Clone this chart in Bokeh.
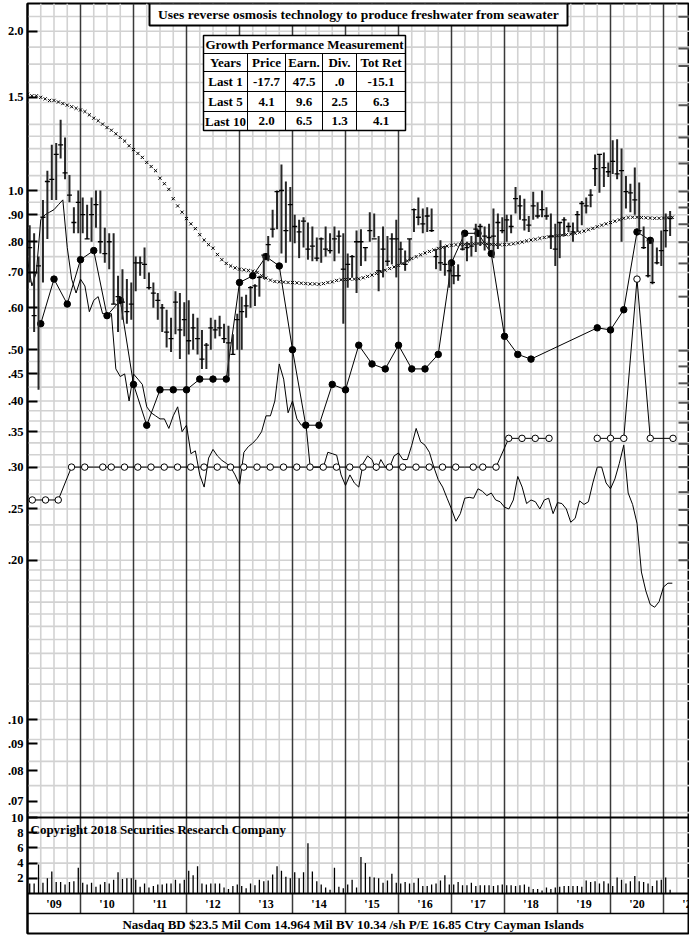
import numpy as np
from bokeh.plotting import figure
from bokeh.models import Range1d, FixedTicker, CustomJSTickFormatter, LinearScale
from bokeh.core.properties import value
from bokeh.embed import file_html
from bokeh.resources import INLINE

FONT = "Liberation Serif"

# ---------------- data ----------------
year_labels = ["'09", "'10", "'11", "'12", "'13", "'14", "'15", "'16", "'17", "'18", "'19", "'20", "'21"]
first_year = 2009

bar_high = [0.86, 0.83, 0.75, 0.96, 1.09, 1.22, 1.23, 1.36, 1.26, 1.07, 0.93, 1.00,
            0.97, 0.94, 0.97, 1.00, 1.00, 0.85, 0.83, 0.83, 0.69, 0.71, 0.68, 0.67,
            0.75, 0.75, 0.78, 0.70, 0.67, 0.64, 0.61, 0.595, 0.575, 0.645, 0.64, 0.615,
            0.62, 0.585, 0.575, 0.545, 0.515, 0.575, 0.57, 0.58, 0.56, 0.555, 0.535, 0.585,
            0.63, 0.635, 0.66, 0.665, 0.69, 0.76, 0.82, 0.92, 1.00, 1.12, 1.04, 1.015,
            0.90, 0.88, 0.89, 0.87, 0.855, 0.815, 0.815, 0.855, 0.83, 0.855, 0.84, 0.83,
            0.76, 0.755, 0.84, 0.845, 0.78, 0.91, 0.905, 0.82, 0.855, 0.82, 0.83, 0.88,
            0.80, 0.77, 0.81, 0.925, 0.97, 0.925, 0.93, 0.925, 0.775, 0.805, 0.785, 0.735,
            0.72, 0.725, 0.83, 0.80, 0.82, 0.865, 0.865, 0.855, 0.865, 0.925, 0.905, 0.89,
            0.90, 0.90, 1.015, 0.98, 0.965, 0.895, 0.995, 0.95, 1.00, 0.93, 0.905, 0.865,
            0.87, 0.89, 0.87, 0.87, 0.915, 0.955, 0.97, 1.005, 1.17, 1.17, 1.18, 1.13,
            1.245, 1.25, 1.20, 1.065, 1.03, 1.105, 1.035, 0.855, 0.805, 0.81, 0.78, 0.84,
            0.905, 0.915]
bar_low = [0.67, 0.54, 0.42, 0.67, 0.81, 0.96, 0.96, 1.15, 1.05, 0.95, 0.83, 0.83,
           0.83, 0.81, 0.80, 0.85, 0.76, 0.73, 0.71, 0.61, 0.54, 0.57, 0.56, 0.57,
           0.645, 0.69, 0.68, 0.65, 0.60, 0.57, 0.54, 0.505, 0.495, 0.535, 0.48, 0.53,
           0.49, 0.50, 0.49, 0.46, 0.46, 0.50, 0.525, 0.53, 0.515, 0.445, 0.49, 0.50,
           0.50, 0.575, 0.60, 0.605, 0.63, 0.68, 0.735, 0.815, 0.845, 0.76, 0.73, 0.80,
           0.795, 0.745, 0.78, 0.74, 0.735, 0.735, 0.73, 0.75, 0.76, 0.735, 0.76, 0.56,
           0.655, 0.685, 0.64, 0.72, 0.735, 0.80, 0.815, 0.645, 0.685, 0.72, 0.725, 0.685,
           0.725, 0.705, 0.735, 0.835, 0.86, 0.83, 0.835, 0.835, 0.71, 0.705, 0.69, 0.655,
           0.665, 0.675, 0.77, 0.735, 0.75, 0.765, 0.785, 0.77, 0.77, 0.745, 0.775, 0.83,
           0.80, 0.83, 0.905, 0.88, 0.84, 0.835, 0.88, 0.885, 0.89, 0.88, 0.775, 0.72,
           0.745, 0.82, 0.835, 0.80, 0.835, 0.86, 0.905, 0.93, 1.02, 0.99, 1.015, 1.06,
           1.075, 1.05, 0.80, 0.925, 0.91, 0.90, 0.83, 0.775, 0.685, 0.665, 0.725, 0.72,
           0.78, 0.82]
bar_close = [0.78, 0.58, 0.72, 0.89, 1.04, 1.05, 1.17, 1.22, 1.08, 0.98, 0.87, 0.95,
             0.90, 0.81, 0.90, 0.94, 0.80, 0.76, 0.80, 0.61, 0.63, 0.615, 0.59, 0.61,
             0.73, 0.73, 0.725, 0.655, 0.64, 0.62, 0.60, 0.54, 0.525, 0.615, 0.545, 0.57,
             0.52, 0.55, 0.525, 0.48, 0.51, 0.55, 0.545, 0.55, 0.525, 0.515, 0.49, 0.57,
             0.59, 0.605, 0.655, 0.66, 0.685, 0.755, 0.79, 0.845, 0.995, 1.00, 0.84, 0.94,
             0.855, 0.835, 0.875, 0.775, 0.785, 0.745, 0.81, 0.775, 0.77, 0.81, 0.82, 0.71,
             0.725, 0.75, 0.80, 0.80, 0.78, 0.84, 0.81, 0.705, 0.775, 0.735, 0.81, 0.81,
             0.775, 0.725, 0.81, 0.92, 0.89, 0.865, 0.895, 0.84, 0.75, 0.73, 0.725, 0.705,
             0.69, 0.69, 0.775, 0.78, 0.785, 0.845, 0.855, 0.82, 0.815, 0.82, 0.87, 0.84,
             0.88, 0.855, 0.965, 0.935, 0.88, 0.86, 0.935, 0.895, 0.92, 0.895, 0.82, 0.775,
             0.87, 0.88, 0.855, 0.835, 0.90, 0.945, 0.935, 0.98, 1.10, 1.17, 1.105, 1.085,
             1.135, 1.075, 1.09, 0.995, 0.99, 0.96, 0.84, 0.78, 0.69, 0.67, 0.73, 0.77,
             0.84, 0.885]

ma_line = [1.52, 1.51, 1.51, 1.50, 1.49, 1.48, 1.48, 1.47, 1.46, 1.45, 1.44, 1.43,
           1.42, 1.41, 1.39, 1.37, 1.355, 1.335, 1.315, 1.30, 1.28, 1.26, 1.24, 1.215,
           1.195, 1.175, 1.155, 1.13, 1.11, 1.09, 1.055, 1.03, 1.005, 0.965, 0.935, 0.91,
           0.885, 0.865, 0.847, 0.825, 0.806, 0.79, 0.778, 0.757, 0.74, 0.728, 0.72, 0.714,
           0.71, 0.708, 0.706, 0.704, 0.70, 0.69, 0.683, 0.677, 0.673, 0.672, 0.671, 0.67,
           0.67, 0.669, 0.668, 0.667, 0.666, 0.666, 0.665, 0.667, 0.67, 0.672, 0.676, 0.678,
           0.679, 0.68, 0.68, 0.681, 0.684, 0.688, 0.692, 0.697, 0.702, 0.707, 0.712, 0.717,
           0.722, 0.728, 0.736, 0.744, 0.75, 0.756, 0.762, 0.767, 0.772, 0.777, 0.781, 0.785,
           0.788, 0.79, 0.79, 0.791, 0.792, 0.793, 0.794, 0.795, 0.793, 0.791, 0.79, 0.79,
           0.79, 0.791, 0.793, 0.796, 0.799, 0.803, 0.806, 0.809, 0.812, 0.815, 0.817, 0.819,
           0.821, 0.823, 0.825, 0.827, 0.83, 0.834, 0.838, 0.843, 0.848, 0.854, 0.86, 0.865,
           0.87, 0.875, 0.88, 0.886, 0.889, 0.89, 0.89, 0.889, 0.888, 0.887, 0.886, 0.886,
           0.887, 0.889, 0.89]

rs_line = [0.74, 0.66, 0.70, 0.88, 0.90, 0.91, 0.92, 0.94, 0.96, 0.78, 0.68, 0.64,
           0.68, 0.66, 0.59, 0.62, 0.63, 0.585, 0.585, 0.585, 0.46, 0.445, 0.45, 0.40,
           0.45, 0.44, 0.43, 0.39, 0.38, 0.375, 0.37, 0.37, 0.355, 0.375, 0.39, 0.35,
           0.36, 0.318, 0.322, 0.29, 0.275, 0.312, 0.324, 0.315, 0.309, 0.305, 0.30, 0.29,
           0.278, 0.32, 0.328, 0.333, 0.34, 0.35, 0.375, 0.375, 0.40, 0.47, 0.44, 0.38,
           0.40, 0.37, 0.36, 0.365, 0.30, 0.30, 0.30, 0.30, 0.32, 0.318, 0.316, 0.29,
           0.277, 0.29, 0.28, 0.275, 0.305, 0.315, 0.31, 0.295, 0.31, 0.30, 0.30, 0.315,
           0.319, 0.31, 0.31, 0.33, 0.355, 0.335, 0.33, 0.32, 0.30, 0.284, 0.275, 0.262,
           0.25, 0.237, 0.245, 0.262, 0.263, 0.262, 0.273, 0.27, 0.265, 0.268, 0.26, 0.258,
           0.252, 0.25, 0.26, 0.288, 0.275, 0.256, 0.26, 0.258, 0.25, 0.26, 0.262, 0.245,
           0.257, 0.256, 0.25, 0.236, 0.24, 0.259, 0.255, 0.258, 0.28, 0.30, 0.30, 0.28,
           0.273, 0.285, 0.305, 0.33, 0.268, 0.255, 0.235, 0.19, 0.175, 0.165, 0.163, 0.167,
           0.178, 0.181, 0.181]

earn_dates = [2009.25, 2009.5, 2009.75, 2010.0, 2010.25, 2010.5, 2010.75, 2011.0, 2011.25,
              2011.5, 2011.75, 2012.0, 2012.25, 2012.5, 2012.75, 2013.0, 2013.25, 2013.5,
              2013.75, 2014.0, 2014.25, 2014.5, 2014.75, 2015.0, 2015.25, 2015.5, 2015.75,
              2016.0, 2016.25, 2016.5, 2016.75, 2017.0, 2017.25, 2017.5, 2017.75, 2018.0,
              2018.25, 2018.5, 2019.75, 2020.0, 2020.25, 2020.5, 2020.75]
earn_vals = [0.56, 0.68, 0.61, 0.74, 0.77, 0.58, 0.62, 0.43, 0.36, 0.42, 0.42, 0.42, 0.44,
             0.44, 0.44, 0.67, 0.69, 0.75, 0.72, 0.50, 0.36, 0.36, 0.43, 0.42, 0.51, 0.47,
             0.46, 0.51, 0.46, 0.46, 0.49, 0.73, 0.83, 0.83, 0.76, 0.53, 0.49, 0.48, 0.55,
             0.545, 0.595, 0.835, 0.805]

div_dates = [2009.09, 2009.34, 2009.58, 2009.83, 2010.08, 2010.42, 2010.58, 2010.83,
             2011.08, 2011.33, 2011.58, 2011.83, 2012.08, 2012.33, 2012.58, 2012.83,
             2013.08, 2013.33, 2013.58, 2013.83, 2014.08, 2014.33, 2014.58, 2014.83,
             2015.08, 2015.33, 2015.58, 2015.83, 2016.08, 2016.33, 2016.58, 2016.83,
             2017.08, 2017.41, 2017.59, 2017.84, 2018.08, 2018.33, 2018.58, 2018.84,
             2019.30, 2019.75, 2020.0, 2020.25, 2020.5, 2020.75, 2021.18]
div_vals = [0.26, 0.26, 0.26, 0.30, 0.30, 0.30, 0.30, 0.30,
            0.30, 0.30, 0.30, 0.30, 0.30, 0.30, 0.30, 0.30,
            0.30, 0.30, 0.30, 0.30, 0.30, 0.30, 0.30, 0.30,
            0.30, 0.30, 0.30, 0.30, 0.30, 0.30, 0.30, 0.30,
            0.30, 0.30, 0.30, 0.30, 0.34, 0.34, 0.34, 0.34,
            float("nan"), 0.34, 0.34, 0.34, 0.68, 0.34, 0.34]

volume = [1.3, 1.3, 3.8, 1.4, 2.0, 2.9, 1.5, 1.5, 1.2, 1.5, 1.6, 3.4,
          1.4, 1.2, 1.4, 0.9, 1.2, 1.5, 1.3, 1.8, 2.8, 1.9, 2.0, 2.0,
          1.8, 0.9, 1.3, 0.8, 1.0, 1.2, 1.2, 1.3, 1.3, 1.8, 1.3, 1.8,
          3.0, 2.4, 3.6, 1.3, 1.2, 1.3, 1.3, 1.3, 0.8, 0.6, 1.0, 1.2,
          1.0, 0.7, 1.3, 1.1, 1.8, 1.6, 1.7, 2.5, 3.6, 3.0, 2.2, 2.0,
          2.8, 2.0, 2.8, 6.6, 2.9, 1.6, 1.2, 0.8, 0.5, 3.4, 0.9, 0.7,
          1.2, 1.8, 0.8, 4.8, 4.0, 2.2, 2.1, 2.0, 1.4, 1.7, 2.6, 1.4,
          1.3, 1.5, 1.3, 1.4, 2.0, 1.0, 1.0, 1.2, 1.3, 1.7, 2.4, 1.2,
          1.2, 1.5, 1.1, 1.1, 1.4, 1.0, 1.1, 1.1, 1.1, 1.0, 1.1, 1.2,
          1.1, 1.1, 1.0, 1.1, 1.2, 0.9, 0.6, 0.6, 0.4, 0.8, 0.6, 0.8,
          0.9, 1.0, 1.0, 1.0, 1.0, 0.9, 1.7, 1.5, 1.6, 1.3, 1.6, 1.3,
          1.0, 2.1, 1.8, 1.3, 1.6, 2.3, 1.6, 1.5, 1.3, 1.0, 1.7, 1.8,
          2.1, 0.5]

price_ticks = [2.0, 1.5, 1.0, 0.9, 0.8, 0.7, 0.6, 0.5, 0.45, 0.4, 0.35, 0.3, 0.25, 0.2,
               0.1, 0.09, 0.08, 0.07]
volume_ticks = [2, 4, 6, 8, 10]
# unlabelled tick marks of the right-hand scale (in price-axis units)
right_ticks = [0.20, 0.216, 0.233, 0.249, 0.269, 0.30, 0.332, 0.364, 0.397, 0.432, 0.465,
               0.498, 0.63, 0.728, 0.798, 0.863, 0.929, 0.996, 1.125, 1.26, 1.45, 1.72,
               1.855, 2.13]

title_text = "Uses reverse osmosis technology to produce freshwater from seawater"
table_title = "Growth Performance Measurement"
table_header = ["Years", "Price", "Earn.", "Div.", "Tot Ret"]
table_rows = [["Last 1", "-17.7", "47.5", ".0", "-15.1"],
              ["Last 5", "4.1", "9.6", "2.5", "6.3"],
              ["Last 10", "2.0", "6.5", "1.3", "4.1"]]
footer_text = "Nasdaq BD  $23.5 Mil Com 14.964 Mil BV 10.34 /sh  P/E 16.85 Ctry Cayman Islands"
copyright_text = "Copyright 2018 Securities Research Company"

# ------------- layout helpers (reference pixel -> data) -------------
PX_YEAR = 53.0      # pixels per year
Y_ONE, PX_DEC = 190.0, 529.0   # pixel row of price 1.0, pixels per decade
VOL_BASE, PX_VOL = 893.0, 7.6  # pixel row of zero volume, pixels per volume unit

def px_x(px):
    return first_year + (px - 27) / PX_YEAR

def px_price(py):
    return 10 ** ((Y_ONE - py) / PX_DEC)

def px_vol(py):
    return (VOL_BASE - py) / PX_VOL

# price grid: step sizes change by band
price_grid = ([i / 120 for i in range(8, 24)] + [i / 60 for i in range(12, 24)] +
              [i / 40 for i in range(16, 20)] + [i / 20 for i in range(10, 20)] +
              [1 + i / 15 for i in range(0, 5)] + [4 / 3 + 2 * i / 15 for i in range(0, 8)])
price_grid = [g for g in price_grid if px_price(815) < g < px_price(4)]

x0, x1 = px_x(27), px_x(689)
p = figure(width=689, height=936, x_range=Range1d(x0, x1),
           y_range=Range1d(px_price(933), px_price(3)), y_axis_type="log",
           x_axis_location=None, output_backend="svg", toolbar_location=None,
           min_border_left=27, min_border_right=0, min_border_top=3, min_border_bottom=3,
           background_fill_color="white", border_fill_color="white")
p.extra_y_ranges = {"vol": Range1d(px_vol(933), px_vol(3))}
p.extra_y_scales = {"vol": LinearScale()}
for g in p.grid:
    g.visible = False
p.outline_line_color = "black"
p.outline_line_width = 2

# left axis: price ticks plus the volume ticks (same pixel rows) on one axis
vol_tick_rows = [VOL_BASE - PX_VOL * v for v in volume_ticks]
ax = p.yaxis[0]
ax.ticker = FixedTicker(ticks=price_ticks + [px_price(r) for r in vol_tick_rows], minor_ticks=[])
ax.formatter = CustomJSTickFormatter(
    args=dict(thr=px_price(815), y1=Y_ONE, dec=PX_DEC, base=VOL_BASE, k=PX_VOL),
    code="""
    if (tick < thr) {
        const row = y1 - dec * Math.log10(tick);
        return String(Math.round((base - row) / k));
    }
    return tick >= 1 ? tick.toFixed(1) : tick.toFixed(2).slice(1);
    """)
ax.axis_line_width = 2
ax.axis_line_color = "black"
ax.major_tick_in = 10
ax.major_tick_out = 0
ax.major_tick_line_width = 2
ax.minor_tick_in = 0
ax.minor_tick_out = 0
ax.major_label_standoff = 4
ax.major_label_text_font = FONT
ax.major_label_text_font_style = "bold"
ax.major_label_text_font_size = "12.5px"
ax.major_label_text_color = "black"

GRID = "#d2d2d2"
p.segment(x0=[x0] * len(price_grid), x1=[x1] * len(price_grid), y0=price_grid, y1=price_grid,
          line_color=GRID, line_width=1.6)
p.segment(x0=[x0] * 4, x1=[x1] * 4, y0=volume_ticks[:4], y1=volume_ticks[:4],
          line_color=GRID, line_width=1.6, y_range_name="vol")
quarters = [first_year + k / 4 for k in range(1, 50) if k % 4 != 0]
vtop = px_vol(3)
p.segment(x0=quarters, x1=quarters, y0=[0] * len(quarters), y1=[vtop] * len(quarters),
          line_color=GRID, line_width=1.6, y_range_name="vol")
yrs = [first_year + k for k in range(1, 13)]
p.segment(x0=yrs, x1=yrs, y0=[px_vol(913)] * len(yrs), y1=[vtop] * len(yrs),
          line_color="#3a3a3a", line_width=1.5, y_range_name="vol")
for yy, lw in [(px_vol(817), 2.2), (px_vol(893), 2.2), (px_vol(913), 1.5)]:
    p.segment(x0=[x0], x1=[x1], y0=[yy], y1=[yy], line_color="black", line_width=lw,
              y_range_name="vol")

# right-hand scale tick marks
rt0 = px_x(678)
p.segment(x0=[rt0] * len(right_ticks), x1=[x1] * len(right_ticks), y0=right_ticks,
          y1=right_ticks, line_color="#555555", line_width=2)

# volume bars
vx = [first_year + (m + 0.5) / 12 for m in range(len(volume))]
p.segment(x0=vx, x1=vx, y0=[0] * len(volume), y1=volume, line_color="black",
          line_width=1.3, y_range_name="vol")

# relative strength thin line
mx = [first_year + m / 12 for m in range(len(rs_line))]
p.line(mx, rs_line, line_color="black", line_width=1)

# moving average x markers
ax_ma = [first_year + m / 12 for m in range(len(ma_line))]
p.scatter(ax_ma, ma_line, marker="x", size=4.5, line_color="black", line_width=1)

# dividends
p.line(div_dates, div_vals, line_color="black", line_width=1)
p.scatter(div_dates, div_vals, marker="circle", size=6.5, fill_color="white",
          line_color="black", line_width=1)

# earnings
p.line(earn_dates, earn_vals, line_color="black", line_width=1)
p.scatter(earn_dates, earn_vals, marker="circle", size=6.5, fill_color="black",
          line_color="black")

# price bars
bx = np.array([first_year + (m + 0.5) / 12 for m in range(len(bar_high))])
p.segment(x0=bx, x1=bx, y0=bar_low, y1=bar_high, line_color="#262626", line_width=2)
half = (px_x(29.5) - px_x(27))
p.segment(x0=bx - half, x1=bx + half, y0=bar_close, y1=bar_close, line_color="black",
          line_width=1.3)

# title box
p.quad(left=[px_x(149)], right=[px_x(567)], top=[px_price(3)], bottom=[px_price(25)],
       fill_color="white", line_color="black", line_width=2)
p.text(x=[px_x(358)], y=[px_price(14)], text=[title_text], text_font=value(FONT),
       text_font_style="bold", text_font_size="13.5px", text_align="center",
       text_baseline="middle", text_color="black")

# table
cols = [203, 247, 285, 322, 356, 405]
rows = [35, 53, 71, 91, 111, 130]
p.quad(left=[px_x(cols[0])], right=[px_x(cols[-1])], top=[px_price(rows[0])],
       bottom=[px_price(rows[-1])], fill_color="white", line_color="black", line_width=1.5)
hl = rows[1:-1]
p.segment(x0=[px_x(cols[0])] * len(hl), x1=[px_x(cols[-1])] * len(hl),
          y0=[px_price(r) for r in hl], y1=[px_price(r) for r in hl],
          line_color="black", line_width=1)
vl = cols[1:-1]
p.segment(x0=[px_x(c) for c in vl], x1=[px_x(c) for c in vl],
          y0=[px_price(rows[1])] * len(vl), y1=[px_price(rows[-1])] * len(vl),
          line_color="black", line_width=1)
tx, ty, tt = [px_x((cols[0] + cols[-1]) / 2)], [px_price((rows[0] + rows[1]) / 2)], [table_title]
for r, line in enumerate([table_header] + table_rows):
    for c, s in enumerate(line):
        tx.append(px_x((cols[c] + cols[c + 1]) / 2))
        ty.append(px_price((rows[r + 1] + rows[r + 2]) / 2))
        tt.append(s)
p.text(x=tx, y=ty, text=tt, text_font=value(FONT), text_font_style="bold",
       text_font_size="13px", text_align="center", text_baseline="middle", text_color="black")

# copyright
p.text(x=[px_x(30)], y=[px_vol(829)], text=[copyright_text], text_font=value(FONT),
       text_font_style="bold", text_font_size="13px", text_align="left",
       text_baseline="middle", text_color="black", y_range_name="vol")

# year labels
ylx = [first_year + k + 0.5 for k in range(len(year_labels))]
p.text(x=ylx, y=[px_vol(903)] * len(ylx), text=year_labels, text_font=value(FONT),
       text_font_style="bold", text_font_size="12px", text_align="center",
       text_baseline="middle", text_color="black", y_range_name="vol")

# footer
p.text(x=[px_x(356)], y=[px_vol(924)], text=[footer_text], text_font=value(FONT),
       text_font_style="bold", text_font_size="13px", text_align="center",
       text_baseline="middle", text_color="black", y_range_name="vol")

open("out.html", "w").write(file_html(p, INLINE))
